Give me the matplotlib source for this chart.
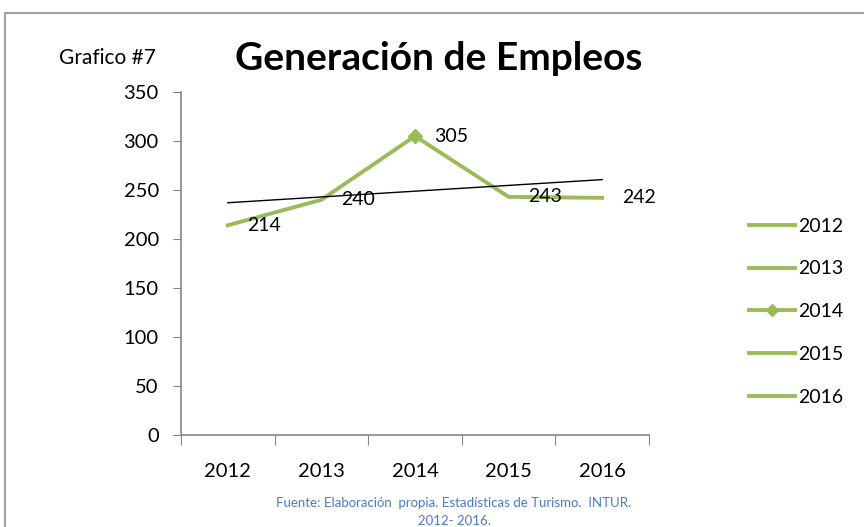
import numpy as np
import matplotlib.pyplot as plt
from matplotlib.lines import Line2D
from matplotlib.patches import Rectangle

years = ['2012', '2013', '2014', '2015', '2016']
empleos = [214, 240, 305, 243, 242]

verde = '#9BBB59'
gris = '#868686'
plt.rcParams['font.family'] = ['Lato', 'DejaVu Sans']

fig = plt.figure(figsize=(8.64, 5.27), dpi=100)
fig.patches.append(Rectangle((5 / 864, -0.1), 1.1, 1 - 13 / 527 + 0.1,
                             transform=fig.transFigure, fill=False,
                             edgecolor='#A0A0A0', linewidth=1.5))

ax = fig.add_axes([181 / 864, 92 / 527, 468 / 864, 343 / 527])
x = np.arange(len(years))
ax.plot(x, empleos, color=verde, linewidth=2.8, solid_joinstyle='miter')
ax.plot(x[2], empleos[2], marker='D', color=verde, markersize=7)

# linea de tendencia lineal
m, b = np.polyfit(x, empleos, 1)
ax.plot(x[[0, -1]], m * x[[0, -1]] + b, color='black', linewidth=1)

for xi, v in zip(x, empleos):
    ax.annotate(str(v), (xi, v), xytext=(14, 0), textcoords='offset points',
                va='center', ha='left', fontsize=14)

ax.set_xlim(-0.5, 4.5)
ax.set_ylim(0, 350)
ax.set_yticks(range(0, 351, 50))
ax.set_xticks(np.arange(-0.5, 4.6, 1))
ax.set_xticklabels([])
ax.set_xticks(x, minor=True)
ax.set_xticklabels(years, minor=True, fontsize=14.5)
ax.tick_params(axis='x', which='minor', length=0, pad=20)
ax.tick_params(axis='x', which='major', direction='out', length=7, color=gris)
ax.tick_params(axis='y', direction='out', length=6, color=gris, labelsize=14.5, pad=10)
for s in ['top', 'right']:
    ax.spines[s].set_visible(False)
for s in ['left', 'bottom']:
    ax.spines[s].set_color(gris)
    ax.spines[s].set_linewidth(1.2)

handles = [Line2D([], [], color=verde, linewidth=2.8,
                  marker='D' if y == '2014' else None, markersize=6)
           for y in years]
fig.legend(handles, years, loc='upper left', bbox_to_anchor=(731 / 864, 1 - 200 / 527),
           frameon=False, fontsize=14, handlelength=2.4, handletextpad=0.15,
           labelspacing=1.33)

fig.text(439 / 864, 1 - 58 / 527, 'Generación de Empleos', ha='center', va='center',
         fontsize=28, fontweight='bold')
fig.text(107 / 864, 1 - 58 / 527, 'Grafico #7', ha='center', va='center', fontsize=15)
fig.text(454 / 864, 1 - 503 / 527, 'Fuente: Elaboración  propia. Estadísticas de Turismo.  INTUR.',
         ha='center', va='center', fontsize=9.5, color='#4A7AC8')
fig.text(454 / 864, 1 - 521 / 527, '2012- 2016.', ha='center', va='center',
         fontsize=9.5, color='#4A7AC8')

fig.savefig('out.png', dpi=100)
